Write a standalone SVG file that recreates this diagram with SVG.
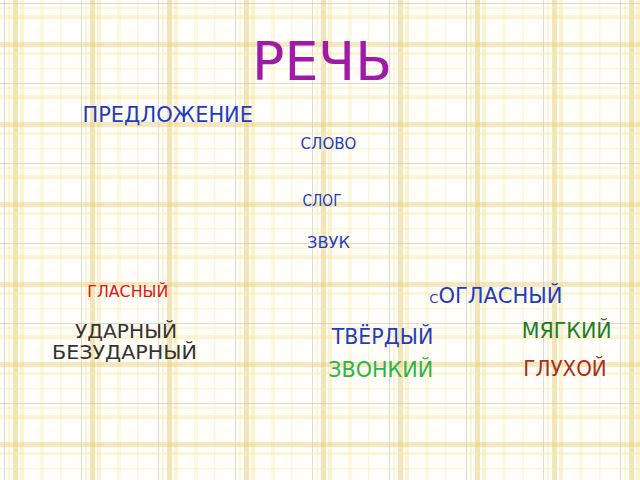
<svg xmlns="http://www.w3.org/2000/svg" width="640" height="480" viewBox="0 0 640 480">
  <defs>
    <pattern id="plaid" x="0" y="0" width="77" height="80" patternUnits="userSpaceOnUse">
      <rect width="77" height="80" fill="#fffefa"/>
      <!-- vertical stripes -->
      <rect x="4" y="0" width="1" height="80" fill="#b0a898" opacity="0.4"/>
      <rect x="8" y="0" width="2" height="80" fill="#f6e79a" opacity="0.35"/>
      <rect x="13" y="0" width="5" height="80" fill="#e6c96a" opacity="0.45"/>
      <rect x="20" y="0" width="4" height="80" fill="#f3df84" opacity="0.35"/>
      <rect x="40" y="0" width="4" height="80" fill="#fbf0b8" opacity="0.4"/>
      <rect x="60" y="0" width="1.5" height="80" fill="#f6e9b0" opacity="0.4"/>
      <!-- horizontal stripes -->
      <rect x="0" y="3" width="77" height="1" fill="#b0a898" opacity="0.4"/>
      <rect x="0" y="7" width="77" height="2" fill="#f6e79a" opacity="0.35"/>
      <rect x="0" y="15" width="77" height="4" fill="#f3df84" opacity="0.3"/>
      <rect x="0" y="42" width="77" height="5" fill="#e6c96a" opacity="0.4"/>
      <rect x="0" y="52" width="77" height="3" fill="#f6e79a" opacity="0.35"/>
      <rect x="0" y="68" width="77" height="1.5" fill="#f6e9b0" opacity="0.4"/>
    </pattern>
    <style>
      text { font-family: "DejaVu Sans", "Liberation Sans", sans-serif; }
      .blue { fill: #1f3cbf; }
    </style>
  </defs>
  <rect width="640" height="480" fill="url(#plaid)"/>

  <g id="title"><text x="252" y="80" font-size="53" fill="#a01aa8" textLength="140" lengthAdjust="spacingAndGlyphs">РЕЧЬ</text></g>
  <g id="predlozhenie"><text class="blue" x="82.5" y="121.5" font-size="22" textLength="170.5" lengthAdjust="spacingAndGlyphs">ПРЕДЛОЖЕНИЕ</text></g>
  <g id="slovo"><text class="blue" x="300.5" y="149" font-size="15" textLength="56" lengthAdjust="spacingAndGlyphs">СЛОВО</text></g>
  <g id="slog"><text class="blue" x="302.5" y="206" font-size="15" textLength="39" lengthAdjust="spacingAndGlyphs">СЛОГ</text></g>
  <g id="zvuk"><text class="blue" x="307" y="248" font-size="15" textLength="43" lengthAdjust="spacingAndGlyphs">ЗВУК</text></g>
  <g id="glasny"><text x="87.3" y="296.5" font-size="16" fill="#e01515" textLength="81" lengthAdjust="spacingAndGlyphs">ГЛАСНЫЙ</text></g>
  <g id="udarny"><text x="75" y="337.5" font-size="19.5" fill="#333333" textLength="102" lengthAdjust="spacingAndGlyphs">УДАРНЫЙ</text></g>
  <g id="bezudarny"><text x="52" y="359" font-size="19.5" fill="#333333" textLength="145" lengthAdjust="spacingAndGlyphs">БЕЗУДАРНЫЙ</text></g>
  <g id="soglasny"><text class="blue" x="429.3" y="302.5" font-size="21"><tspan font-size="13">С</tspan><tspan>ОГЛАСНЫЙ</tspan></text></g>
  <g id="tverdy"><text class="blue" x="331.7" y="344" font-size="21" textLength="101.6" lengthAdjust="spacingAndGlyphs">ТВЁРДЫЙ</text></g>
  <g id="myagky"><text x="521.7" y="338" font-size="21" fill="#1c7d1c" textLength="90" lengthAdjust="spacingAndGlyphs">МЯГКИЙ</text></g>
  <g id="zvonky"><text x="328.3" y="376.5" font-size="21" fill="#2db34a" textLength="105" lengthAdjust="spacingAndGlyphs">ЗВОНКИЙ</text></g>
  <g id="gluhoy"><text x="523.3" y="376" font-size="21" fill="#a3301f" textLength="83.4" lengthAdjust="spacingAndGlyphs">ГЛУХОЙ</text></g>
  <g id="connectors"></g>
</svg>
